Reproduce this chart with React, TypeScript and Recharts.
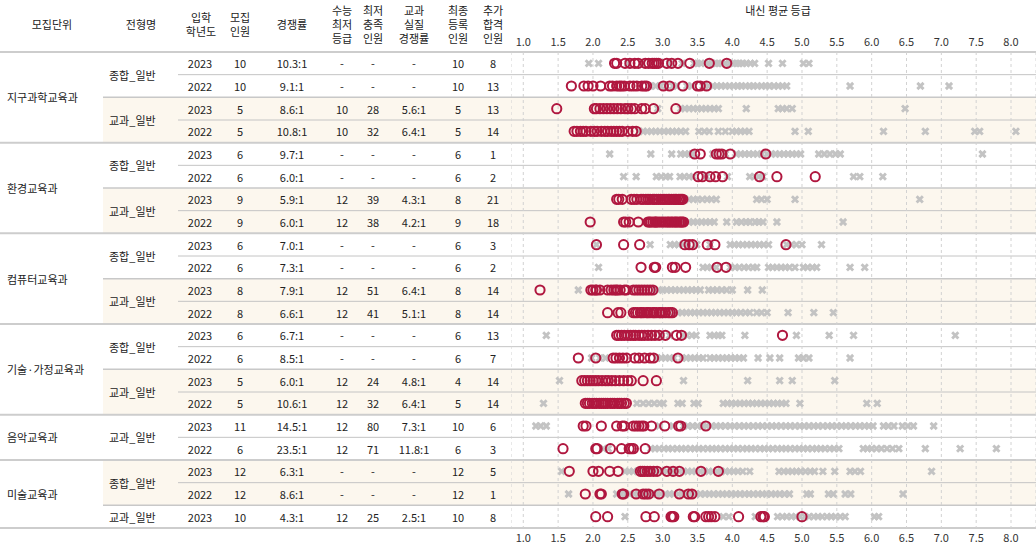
import React from "react";
import { ScatterChart, Scatter, XAxis, YAxis, CartesianGrid } from "recharts";

const departments = ["지구과학교육과", "환경교육과", "컴퓨터교육과", "기술·가정교육과", "음악교육과", "미술교육과"];
const departmentRows = [4, 4, 4, 4, 2, 3];
const tracks = ["종합_일반", "교과_일반", "종합_일반", "교과_일반", "종합_일반", "교과_일반", "종합_일반", "교과_일반", "교과_일반", "종합_일반", "교과_일반"];
const trackRows = [2, 2, 2, 2, 2, 2, 2, 2, 2, 2, 1];

const years = ["2023", "2022", "2023", "2022", "2023", "2022", "2023", "2022", "2023", "2022", "2023", "2022", "2023", "2022", "2023", "2022", "2023", "2022", "2023", "2022", "2023"];
const quotas = ["10", "10", "5", "5", "6", "6", "9", "9", "6", "6", "8", "8", "6", "6", "5", "5", "11", "6", "12", "12", "10"];
const ratios = ["10.3:1", "9.1:1", "8.6:1", "10.8:1", "9.7:1", "6.0:1", "5.9:1", "6.0:1", "7.0:1", "7.3:1", "7.9:1", "6.6:1", "6.7:1", "8.5:1", "6.0:1", "10.6:1", "14.5:1", "23.5:1", "6.3:1", "8.6:1", "4.3:1"];
const csatMins = ["-", "-", "10", "10", "-", "-", "12", "12", "-", "-", "12", "12", "-", "-", "12", "12", "12", "12", "-", "-", "12"];
const minMet = ["-", "-", "28", "32", "-", "-", "39", "38", "-", "-", "51", "41", "-", "-", "24", "32", "80", "71", "-", "-", "25"];
const realRatios = ["-", "-", "5.6:1", "6.4:1", "-", "-", "4.3:1", "4.2:1", "-", "-", "6.4:1", "5.1:1", "-", "-", "4.8:1", "6.4:1", "7.3:1", "11.8:1", "-", "-", "2.5:1"];
const enrolled = ["10", "10", "5", "5", "6", "6", "8", "9", "6", "6", "8", "8", "6", "6", "4", "5", "10", "6", "12", "12", "10"];
const extraAdmits = ["8", "13", "13", "14", "1", "2", "21", "18", "3", "2", "14", "14", "13", "7", "14", "14", "6", "3", "5", "1", "8"];

const gradeTicks = [1, 1.5, 2, 2.5, 3, 3.5, 4, 4.5, 5, 5.5, 6, 6.5, 7, 7.5, 8];

// 합격자 (원) — 행마다 하나
const passGrades: number[][] = [
  [2.31, 2.34, 2.46, 2.53, 2.6, 2.65, 2.75, 2.8, 2.85, 2.88, 2.91, 2.94, 3.06, 3.13, 3.22, 3.39, 3.67, 3.92],
  [1.69, 1.87, 1.93, 2.0, 2.11, 2.24, 2.28, 2.34, 2.38, 2.41, 2.45, 2.53, 2.58, 2.63, 2.7, 2.74, 2.77, 3.01, 3.1, 3.29, 3.5, 3.54, 3.63],
  [1.48, 2.02, 2.05, 2.1, 2.15, 2.2, 2.25, 2.3, 2.35, 2.4, 2.46, 2.5, 2.55, 2.6, 2.7, 2.75, 2.87, 3.19],
  [1.73, 1.77, 1.82, 1.86, 1.9, 1.97, 2.02, 2.06, 2.12, 2.17, 2.21, 2.26, 2.3, 2.34, 2.38, 2.42, 2.5, 2.57, 2.62],
  [3.46, 3.54, 3.77, 3.81, 3.85, 3.97, 4.48],
  [3.51, 3.57, 3.68, 3.76, 3.86, 4.39, 4.64, 5.19],
  [2.34, 2.37, 2.42, 2.55, 2.59, 2.63, 2.69, 2.72, 2.76, 2.79, 2.82, 2.86, 2.88, 2.91, 2.94, 2.97, 3.0, 3.02, 3.05, 3.08, 3.1, 3.13, 3.16, 3.18, 3.2, 3.23, 3.25, 3.27, 3.29],
  [1.96, 2.44, 2.47, 2.52, 2.65, 2.79, 2.81, 2.83, 2.86, 2.89, 2.92, 2.95, 2.98, 3.01, 3.04, 3.07, 3.09, 3.12, 3.14, 3.17, 3.19, 3.21, 3.24, 3.26, 3.28, 3.3, 2.9],
  [2.05, 2.44, 2.67, 3.32, 3.38, 3.43, 3.64, 3.75, 4.77],
  [2.69, 2.88, 2.9, 3.14, 3.18, 3.33, 3.78, 3.91],
  [1.24, 1.97, 2.0, 2.04, 2.05, 2.1, 2.21, 2.26, 2.3, 2.33, 2.35, 2.39, 2.45, 2.48, 2.58, 2.62, 2.66, 2.7, 2.74, 2.78, 2.82, 2.86],
  [2.21, 2.36, 2.4, 2.58, 2.61, 2.64, 2.68, 2.7, 2.73, 2.77, 2.79, 2.82, 2.86, 2.88, 2.91, 2.95, 2.97, 3.0, 3.04, 3.08, 3.11, 3.14],
  [2.34, 2.37, 2.41, 2.45, 2.5, 2.54, 2.58, 2.61, 2.66, 2.7, 2.74, 2.79, 2.84, 2.89, 2.95, 3.04, 3.2, 3.27, 4.72],
  [1.79, 2.04, 2.29, 2.33, 2.38, 2.43, 2.48, 2.6, 2.66, 2.74, 2.82, 2.87, 3.22],
  [1.84, 1.88, 1.92, 1.96, 2.0, 2.04, 2.08, 2.13, 2.18, 2.22, 2.27, 2.32, 2.38, 2.44, 2.5, 2.55, 2.72, 2.91],
  [1.89, 1.92, 1.95, 1.99, 2.02, 2.05, 2.09, 2.12, 2.15, 2.18, 2.21, 2.25, 2.28, 2.31, 2.35, 2.38, 2.41, 2.45, 2.48],
  [1.86, 1.9, 2.12, 2.34, 2.42, 2.45, 2.58, 2.62, 2.66, 2.7, 2.73, 2.84, 3.03, 3.23, 3.26, 3.62],
  [1.57, 2.04, 2.06, 2.25, 2.41, 2.52, 2.55, 2.58, 2.75],
  [1.66, 2.0, 2.08, 2.24, 2.36, 2.68, 2.71, 2.74, 2.78, 2.82, 2.87, 2.92, 3.06, 3.15, 3.24, 3.55, 3.8],
  [1.89, 2.1, 2.12, 2.42, 2.44, 2.62, 2.72, 2.76, 2.8, 2.95, 3.24, 3.37, 3.42],
  [2.04, 2.21, 2.76, 2.88, 3.12, 3.14, 3.16, 3.44, 3.46, 3.62, 3.66, 3.7, 3.75, 4.09, 4.41, 4.44, 4.46, 5.0],
];

// 불합격자 (x)
const failGrades: number[][] = [
  [1.94, 2.08, 2.5, 2.7, 2.97, 3.1, 3.28, 3.45, 3.5, 3.55, 3.61, 3.66, 3.71, 3.76, 3.8, 3.85, 3.9, 3.96, 4.01, 4.06, 4.1, 4.15, 4.2, 4.26, 4.32, 4.52, 4.72, 5.02, 5.1],
  [2.82, 2.9, 2.97, 3.05, 3.15, 3.2, 3.35, 3.42, 3.58, 3.66, 3.72, 3.78, 3.84, 3.9, 3.96, 4.02, 4.08, 4.13, 4.19, 4.25, 4.3, 4.36, 4.42, 4.48, 4.53, 4.6, 4.66, 4.72, 4.78, 5.69, 6.7, 7.11],
  [2.93, 3.26, 3.32, 3.38, 3.44, 3.5, 3.56, 3.62, 3.68, 3.74, 3.8, 4.2, 4.66, 4.72, 4.78, 4.86, 6.48],
  [2.66, 2.72, 2.78, 2.84, 2.9, 2.96, 3.02, 3.08, 3.14, 3.2, 3.26, 3.33, 3.52, 3.6, 3.67, 3.8, 3.9, 4.0, 4.06, 4.12, 4.18, 4.24, 4.9, 5.09, 6.17, 6.77, 7.48, 7.55, 8.07],
  [2.24, 2.83, 3.13, 3.26, 3.32, 3.38, 3.42, 3.72, 3.9, 4.06, 4.12, 4.18, 4.24, 4.3, 4.36, 4.42, 4.5, 4.56, 4.62, 4.68, 4.74, 4.8, 4.86, 4.92, 4.98, 5.24, 5.32, 5.4, 5.48, 5.55, 7.59],
  [2.44, 2.62, 2.91, 2.98, 3.05, 3.1, 3.25, 3.31, 3.38, 3.44, 3.63, 3.93, 4.25, 4.32, 4.38, 4.44, 5.74, 5.83, 6.16],
  [3.32, 3.38, 3.44, 3.5, 3.57, 3.64, 3.7, 3.77, 4.35, 4.42, 4.5, 4.9, 6.69],
  [3.32, 3.38, 3.44, 3.5, 3.56, 3.62, 3.68, 3.74, 3.92, 4.06, 4.13, 4.2, 4.25, 4.33, 4.38, 4.44, 4.64, 5.59],
  [2.05, 2.82, 3.11, 3.17, 3.23, 3.29, 3.36, 3.49, 3.68, 3.97, 4.03, 4.09, 4.15, 4.21, 4.27, 4.33, 4.39, 4.45, 4.52, 4.78, 4.85, 4.92, 5.0, 5.28],
  [2.08, 3.58, 3.64, 3.7, 3.77, 3.97, 4.04, 4.1, 4.17, 4.23, 4.3, 4.35, 4.52, 4.58, 4.64, 4.7, 4.76, 4.82, 4.9, 5.02, 5.08, 5.15, 5.21, 5.69, 5.9],
  [1.79, 2.88, 2.94, 3.0, 3.06, 3.12, 3.18, 3.24, 3.3, 3.36, 3.42, 3.48, 3.54, 3.66, 3.72, 3.78, 3.85, 3.92, 4.0, 4.22, 4.43],
  [3.16, 3.22, 3.28, 3.34, 3.4, 3.46, 3.52, 3.58, 3.64, 3.7, 3.76, 3.82, 3.88, 3.94, 4.0, 4.06, 4.12, 4.19, 4.25, 4.35, 4.42, 4.5, 4.8, 5.17, 5.45],
  [1.33, 2.98, 3.1, 3.3, 3.35, 3.42, 3.48, 3.68, 3.74, 3.8, 3.85, 4.18, 4.92, 5.39, 5.74, 7.2],
  [1.98, 2.1, 2.18, 2.92, 2.98, 3.04, 3.1, 3.16, 3.28, 3.34, 3.4, 3.46, 3.52, 3.58, 3.68, 3.74, 3.8, 3.86, 3.92, 3.98, 4.04, 4.1, 4.16, 4.37, 4.54, 4.68, 4.95, 5.02, 5.1, 5.69],
  [1.52, 3.3, 4.22, 4.68, 4.86, 5.47],
  [1.29, 2.63, 2.72, 2.8, 2.88, 2.96, 3.01, 3.22, 3.28, 3.45, 3.51, 3.87, 3.93, 3.99, 4.05, 4.11, 4.17, 4.23, 4.29, 4.35, 4.41, 4.47, 4.53, 4.59, 4.65, 4.71, 4.77, 4.97, 5.93, 6.08],
  [1.18, 1.25, 1.33, 2.95, 3.15, 3.3, 3.36, 3.43, 3.5, 3.57, 3.63, 3.7, 3.77, 3.83, 3.9, 3.97, 4.03, 4.1, 4.17, 4.23, 4.3, 4.37, 4.43, 4.5, 4.57, 4.63, 4.7, 4.77, 4.83, 4.9, 4.97, 5.03, 5.1, 5.17, 5.23, 5.3, 5.37, 5.43, 5.5, 5.57, 5.63, 5.7, 5.77, 5.83, 5.9, 5.96, 6.02, 6.17, 6.24, 6.32, 6.44, 6.52, 6.6, 6.89],
  [2.15, 2.22, 2.83, 2.89, 2.95, 3.02, 3.08, 3.14, 3.21, 3.27, 3.33, 3.4, 3.46, 3.52, 3.58, 3.65, 3.71, 3.77, 3.83, 3.9, 3.96, 4.02, 4.08, 4.15, 4.21, 4.27, 4.33, 4.4, 4.46, 4.52, 4.58, 4.65, 4.71, 4.77, 4.83, 4.9, 4.96, 5.02, 5.08, 5.15, 5.21, 5.27, 5.33, 5.4, 5.46, 5.53, 5.88, 5.94, 6.0, 6.07, 6.14, 6.22, 6.3, 6.39, 6.77, 7.27, 7.79],
  [1.55, 2.46, 2.52, 2.58, 2.64, 2.7, 2.76, 2.82, 2.88, 2.94, 3.0, 3.06, 3.12, 3.18, 3.24, 3.3, 3.36, 3.42, 3.48, 3.54, 3.6, 3.66, 3.72, 3.78, 3.84, 3.9, 3.96, 4.02, 4.08, 4.15, 4.25, 4.67, 4.74, 4.8, 4.86, 4.92, 4.98, 5.05, 5.12, 5.18, 5.3, 5.47, 5.69, 5.76, 5.84, 6.86],
  [1.65, 2.34, 2.4, 2.47, 2.53, 2.59, 2.66, 2.72, 2.78, 2.85, 2.91, 2.97, 3.04, 3.1, 3.16, 3.23, 3.29, 3.35, 3.42, 3.48, 3.54, 3.61, 3.67, 3.73, 3.8, 3.86, 3.92, 3.99, 4.05, 4.11, 4.18, 4.24, 4.3, 4.37, 4.43, 4.49, 4.56, 4.62, 4.68, 4.75, 4.82, 5.07, 5.12, 5.38, 5.45, 5.62, 5.7, 6.45],
  [2.46, 3.87, 3.95, 4.33, 4.65, 4.72, 4.78, 4.85, 4.91, 4.97, 5.04, 5.1, 5.17, 5.23, 5.29, 5.36, 5.42, 5.48, 5.55, 5.62, 6.04, 6.1],
];

const W = 1036;
const H = 555;
const TOP = 52;
const BOTTOM = 528;
const ROWS = years.length;
const ROW_H = (BOTTOM - TOP) / ROWS;
const CHART_X = 511;
const FONT = '"Noto Sans CJK KR", "Noto Sans", sans-serif';
const TEXT = "#222";
const RED = "#b0173f";
const GRAY = "#c3c3c3";
const SHADE = "#fcf7ee";

const rowY = (i: number) => TOP + (i + 0.5) * ROW_H;

const columns = [
  { x: 201, head: ["입학", "학년도"], values: years },
  { x: 240, head: ["모집", "인원"], values: quotas },
  { x: 292, head: ["경쟁률"], values: ratios },
  { x: 342, head: ["수능", "최저", "등급"], values: csatMins },
  { x: 373, head: ["최저", "충족", "인원"], values: minMet },
  { x: 414, head: ["교과", "실질", "경쟁률"], values: realRatios },
  { x: 458, head: ["최종", "등록", "인원"], values: enrolled },
  { x: 493, head: ["추가", "합격", "인원"], values: extraAdmits },
];

function Header({ x, lines }: { x: number; lines: string[] }) {
  const start = 24 - (lines.length - 1) * 7;
  return (
    <>
      {lines.map((l, k) => (
        <text key={k} x={x} y={start + k * 14} textAnchor="middle" dominantBaseline="central">
          {l}
        </text>
      ))}
    </>
  );
}

function Table() {
  // track groups -> start rows
  const trackStarts: number[] = [];
  trackRows.reduce((acc, n) => {
    trackStarts.push(acc);
    return acc + n;
  }, 0);
  const deptStarts: number[] = [];
  departmentRows.reduce((acc, n) => {
    deptStarts.push(acc);
    return acc + n;
  }, 0);
  const deptBoundary = new Set(deptStarts);
  const trackBoundary = new Set(trackStarts);

  return (
    <svg width={W} height={H} style={{ position: "absolute", left: 0, top: 0 }} fontFamily={FONT} fontSize={11} fill={TEXT}>
      {trackStarts.map((s, g) =>
        g % 2 === 1 ? (
          <rect key={g} x={103} y={TOP + s * ROW_H} width={W - 103} height={trackRows[g] * ROW_H} fill={SHADE} />
        ) : null
      )}
      {years.map((_, i) => {
        if (i === 0) return null;
        const y = TOP + i * ROW_H;
        if (deptBoundary.has(i)) return <line key={i} x1={0} x2={W} y1={y} y2={y} stroke="#cdcdcd" strokeWidth={2} />;
        if (trackBoundary.has(i)) return <line key={i} x1={103} x2={W} y1={y} y2={y} stroke="#c8c8c8" strokeWidth={1.5} />;
        return <line key={i} x1={178} x2={W} y1={y} y2={y} stroke="#c4c4c4" strokeWidth={1} />;
      })}
      <line x1={0} x2={W} y1={TOP} y2={TOP} stroke="#cdcdcd" strokeWidth={2} />
      <line x1={0} x2={W} y1={BOTTOM} y2={BOTTOM} stroke="#bdbdbd" strokeWidth={1.5} />

      <Header x={52} lines={["모집단위"]} />
      <Header x={141} lines={["전형명"]} />
      {columns.map((c, k) => (
        <Header key={k} x={c.x} lines={c.head} />
      ))}
      <text x={778} y={10} textAnchor="middle" dominantBaseline="central">
        내신 평균 등급
      </text>

      {departments.map((d, k) => (
        <text key={d} x={7} y={TOP + (deptStarts[k] + departmentRows[k] / 2) * ROW_H} dominantBaseline="central">
          {d}
        </text>
      ))}
      {tracks.map((t, k) => (
        <text key={k} x={109} y={TOP + (trackStarts[k] + trackRows[k] / 2) * ROW_H} dominantBaseline="central">
          {t}
        </text>
      ))}
      {columns.map((c, k) =>
        c.values.map((v, i) => (
          <text key={`${k}-${i}`} x={c.x - (k === 0 ? 1 : 0)} y={rowY(i)} textAnchor="middle" dominantBaseline="central">
            {v}
          </text>
        ))
      )}
    </svg>
  );
}

const Ring = (p: any) => <circle cx={p.cx} cy={p.cy} r={4.6} fill="none" stroke={RED} strokeWidth={2} />;

const Cross = (p: any) => {
  const s = 3.1;
  const { cx, cy } = p;
  return (
    <path
      d={`M${cx - s},${cy - s}L${cx + s},${cy + s}M${cx - s},${cy + s}L${cx + s},${cy - s}`}
      stroke={GRAY}
      strokeWidth={2.9}
      fill="none"
    />
  );
};

const failData = failGrades.flatMap((row, i) => row.map((x) => ({ x, y: i })));
const passData = passGrades.flatMap((row, i) => row.map((x) => ({ x, y: i })));

// 1.0 sits 12px right of the table edge, 8.0 ends 25px before the page edge
const PX_PER_GRADE = 69.7;
const xDomain = [1 - 12.3 / PX_PER_GRADE, 8 + (W - 1011) / PX_PER_GRADE];

export default function App() {
  const tick = { fill: "#333", fontSize: 11, fontFamily: FONT };
  return (
    <div style={{ position: "absolute", left: 0, top: 0, width: W, height: H, background: "#fff" }}>
      <Table />
      <div style={{ position: "absolute", left: CHART_X, top: 0 }}>
        <ScatterChart width={W - CHART_X} height={H} margin={{ top: 0, right: 0, bottom: 0, left: 0 }}>
          <XAxis
            xAxisId="top"
            orientation="top"
            type="number"
            dataKey="x"
            domain={xDomain}
            ticks={gradeTicks}
            allowDataOverflow
            height={TOP}
            axisLine={false}
            tickLine={false}
            tickSize={4}
            tick={tick}
            tickFormatter={(v: number) => v.toFixed(1)}
          />
          <XAxis
            xAxisId="bottom"
            orientation="bottom"
            type="number"
            dataKey="x"
            domain={xDomain}
            ticks={gradeTicks}
            allowDataOverflow
            height={H - BOTTOM}
            axisLine={false}
            tickLine={false}
            tickSize={4}
            tick={tick}
            tickFormatter={(v: number) => v.toFixed(1)}
          />
          <YAxis
            type="number"
            dataKey="y"
            domain={[-0.5, ROWS - 0.5]}
            reversed
            allowDataOverflow
            width={0}
            tick={false}
            tickLine={false}
            axisLine={{ stroke: "#bbb" }}
          />
          <CartesianGrid xAxisId="bottom" horizontal={false} stroke="#d2d2d2" strokeDasharray="3 3" />
          <Scatter xAxisId="bottom" data={failData} shape={Cross} isAnimationActive={false} />
          <Scatter xAxisId="bottom" data={passData} shape={Ring} isAnimationActive={false} />
        </ScatterChart>
      </div>
    </div>
  );
}
